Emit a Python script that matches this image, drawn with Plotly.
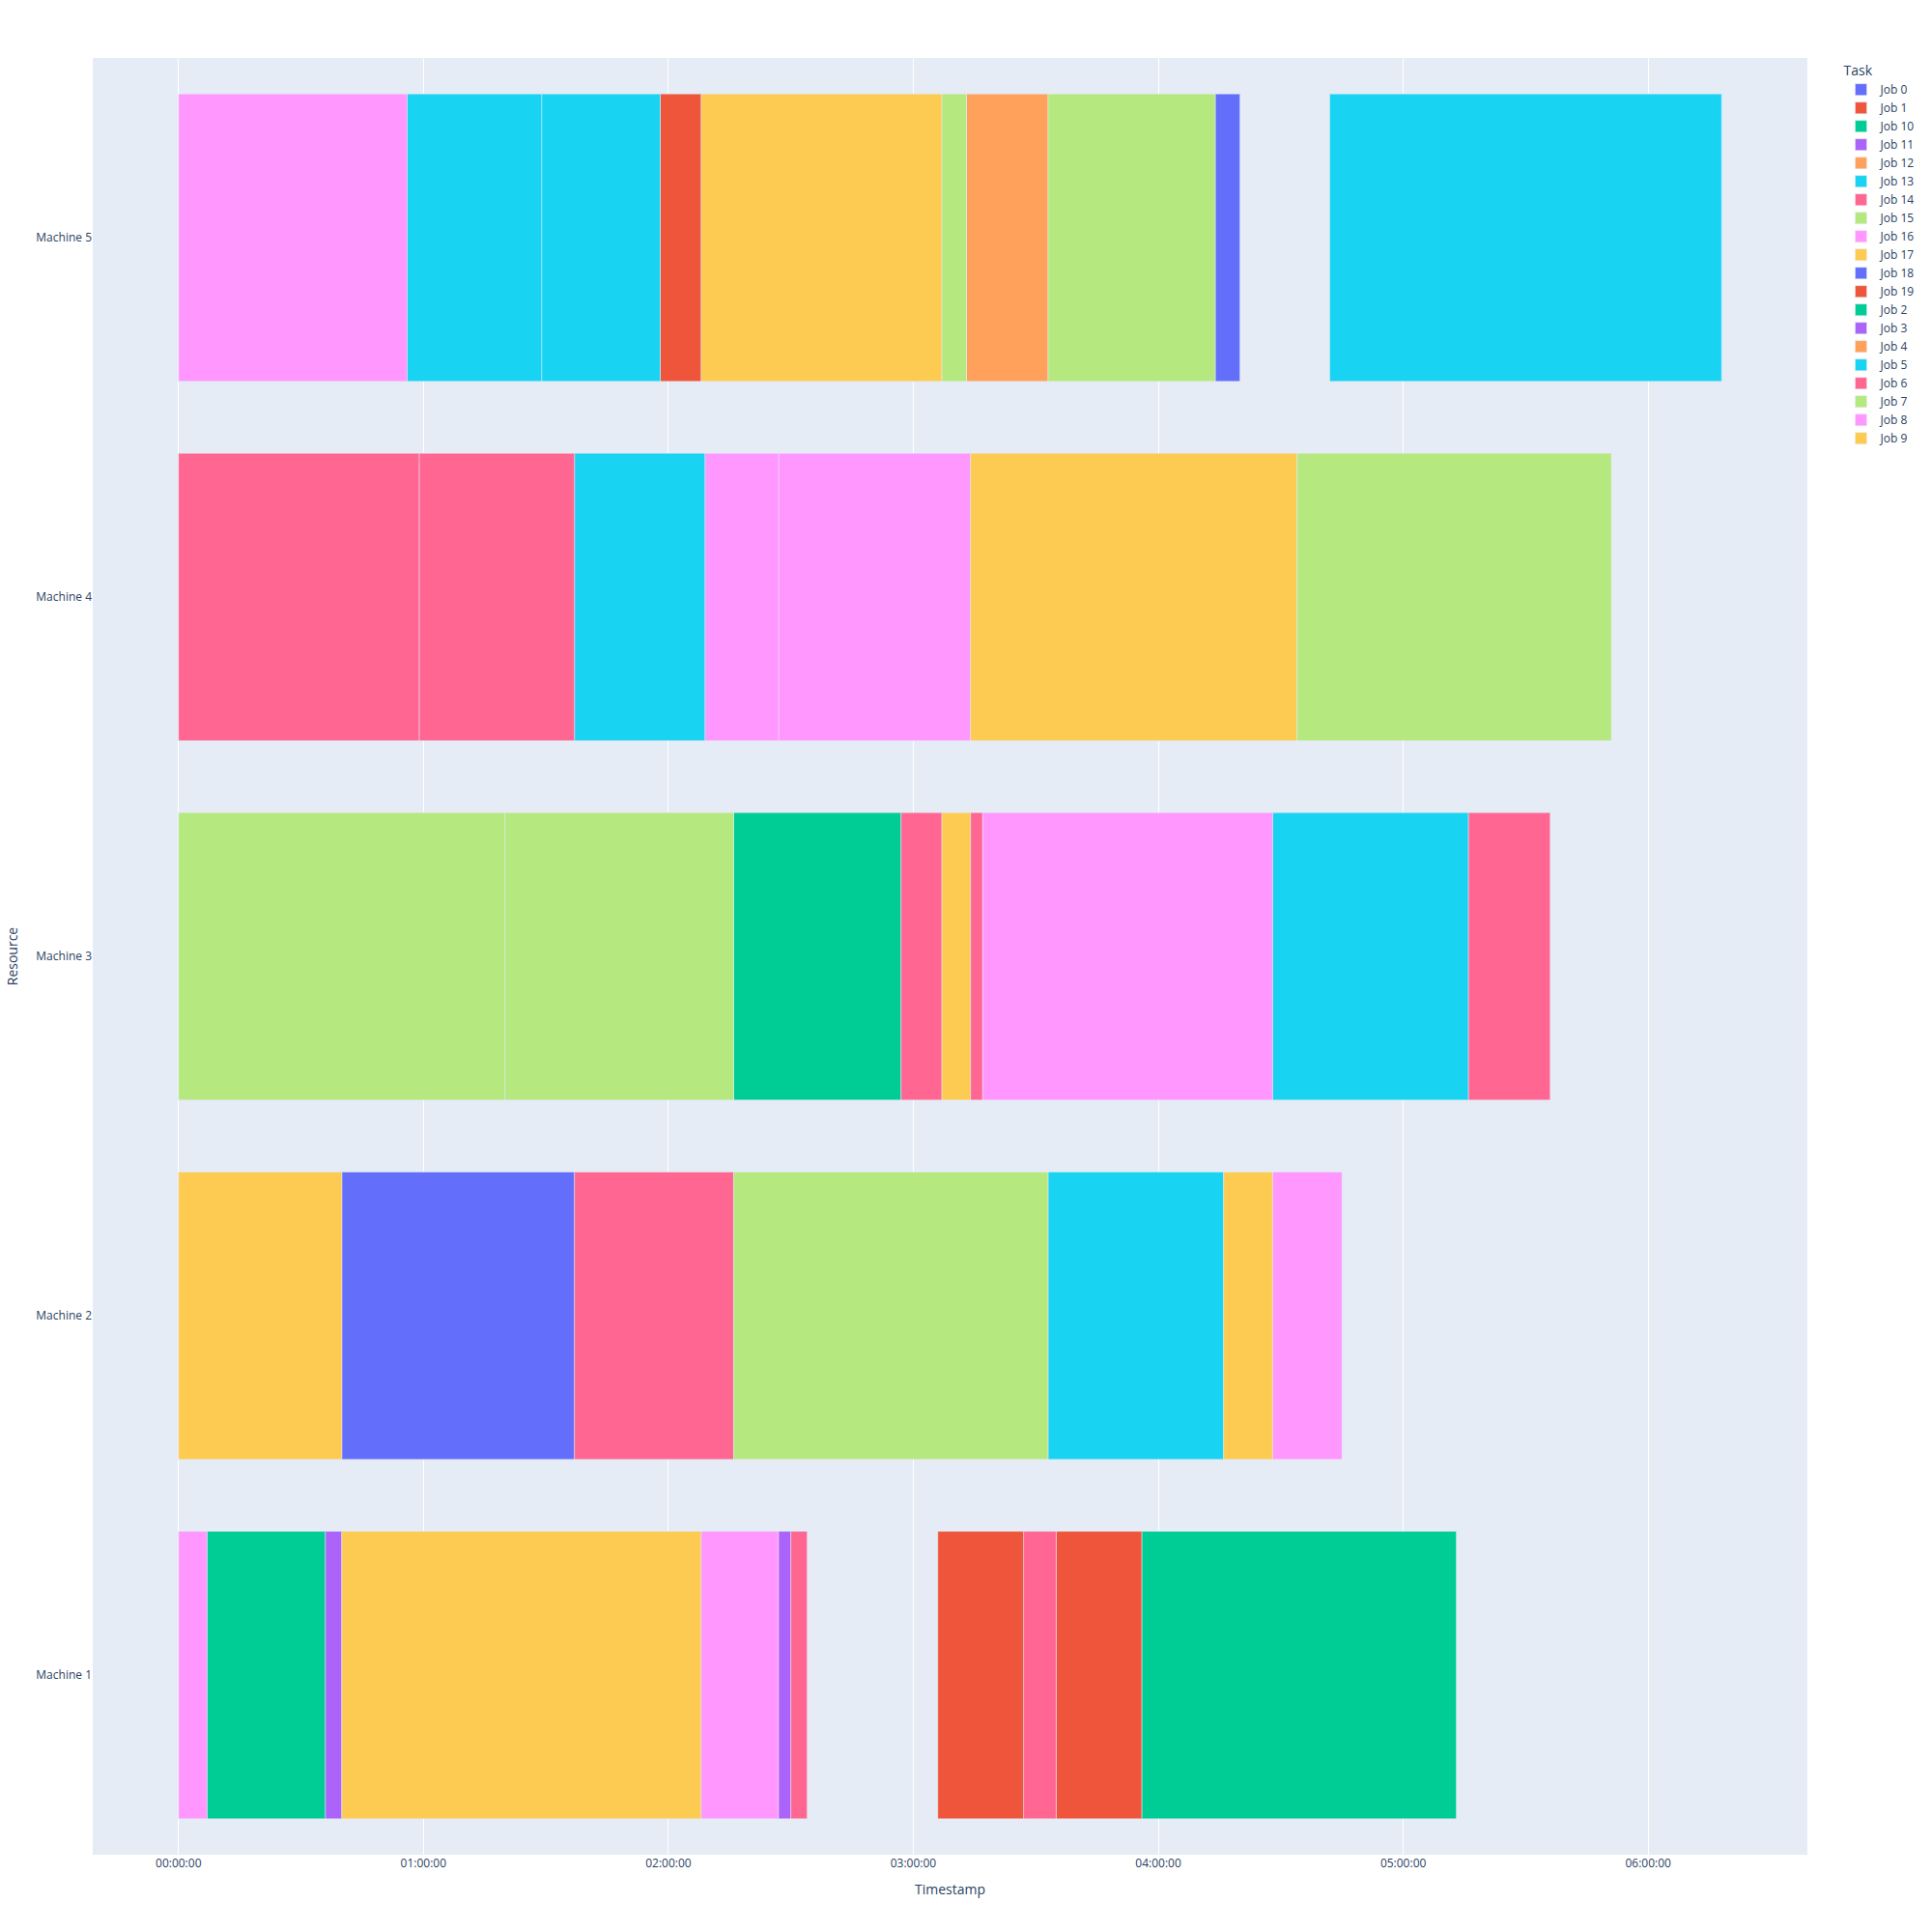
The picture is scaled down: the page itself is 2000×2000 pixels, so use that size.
import pandas as pd
import plotly.express as px

# Schedule data (minutes from start)
tasks = [
    # Machine 1
    "Job 8", "Job 10", "Job 11", "Job 17", "Job 16", "Job 3", "Job 6", "Job 19", "Job 14", "Job 1", "Job 2",
    # Machine 2
    "Job 17", "Job 0", "Job 14", "Job 15", "Job 13", "Job 9", "Job 16",
    # Machine 3
    "Job 15", "Job 7", "Job 10", "Job 14", "Job 9", "Job 6", "Job 8", "Job 5", "Job 6",
    # Machine 4
    "Job 14", "Job 6", "Job 13", "Job 8", "Job 16", "Job 17", "Job 7",
    # Machine 5
    "Job 16", "Job 13", "Job 5", "Job 19", "Job 17", "Job 7", "Job 12", "Job 4", "Job 15", "Job 18", "Job 13",
]
resources = (
    ["Machine 1"] * 11
    + ["Machine 2"] * 7
    + ["Machine 3"] * 9
    + ["Machine 4"] * 7
    + ["Machine 5"] * 11
)
start_min = [
    0, 7, 36, 40, 128, 147, 150, 186, 207, 215, 236,
    0, 40, 97, 136, 213, 256, 268,
    0, 80, 136, 177, 187, 194, 197, 268, 316,
    0, 59, 97, 129, 147, 194, 274,
    0, 56, 89, 118, 128, 187, 193, 193, 213, 254, 282,
]
finish_min = [
    7, 36, 40, 128, 147, 150, 154, 207, 215, 236, 313,
    40, 97, 136, 213, 256, 268, 285,
    80, 136, 177, 187, 194, 197, 268, 316, 336,
    59, 97, 129, 147, 194, 274, 351,
    56, 89, 118, 128, 187, 193, 213, 193, 254, 260, 378,
]
machines = ["Machine 1", "Machine 2", "Machine 3", "Machine 4", "Machine 5"]

base = pd.Timestamp("2024-01-01 00:00:00")
df = pd.DataFrame({
    "Task": tasks,
    "Resource": resources,
    "Start": [base + pd.Timedelta(minutes=m) for m in start_min],
    "Finish": [base + pd.Timedelta(minutes=m) for m in finish_min],
})
df = df.sort_values("Task", kind="stable").reset_index(drop=True)

fig = px.timeline(df, x_start="Start", x_end="Finish", y="Resource", color="Task")

fig.update_layout(
    width=2000,
    height=2000,
    margin=dict(l=96, r=129, t=60, b=80),
    legend=dict(title=dict(text="Task")),
)
fig.update_xaxes(title_text="Timestamp", tickformat="%H:%M:%S", dtick=3600000)
fig.update_yaxes(title_text="Resource", categoryorder="array", categoryarray=machines)

fig.write_html("out.html")
